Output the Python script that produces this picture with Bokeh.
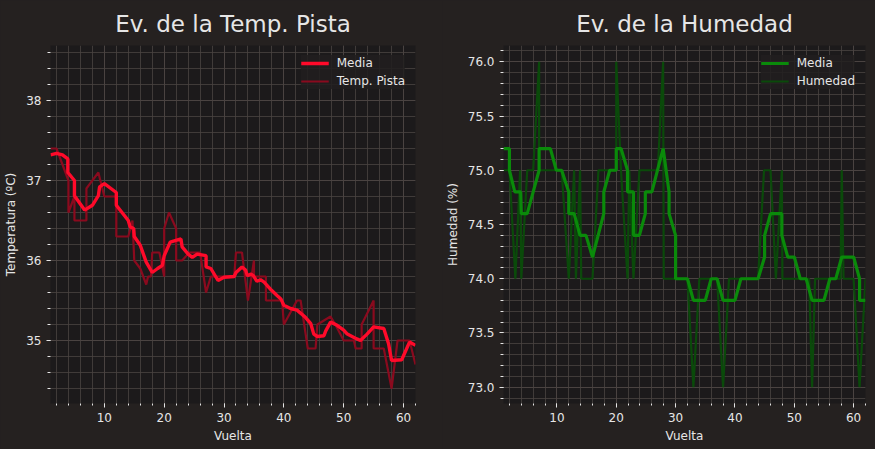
from bokeh.plotting import figure
from bokeh.layouts import row
from bokeh.models import Range1d, SingleIntervalTicker, Legend, LegendItem, NumeralTickFormatter
from bokeh.embed import file_html
from bokeh.resources import INLINE

# ---------------- data ----------------
temp_laps = [1, 2, 3, 4, 4, 5, 5, 7, 7, 9, 10, 12, 12, 14, 14.7, 15, 16, 17, 17.3, 17.8,
             18, 19.2, 20, 20, 20.8, 22, 22, 23, 24.2, 26, 27, 27.8, 28.6, 31.7, 32,
             33, 34, 35, 35, 37, 37, 39.7, 40, 42.2, 42.8, 44, 45.3, 45.6, 47.8, 48.6,
             50, 51.7, 52, 53, 53, 55, 55, 56.7, 58, 59, 61, 62]
temp_values = [37.4, 37.4, 37.2, 37.0, 36.6, 36.8, 36.5, 36.5, 36.9, 37.1, 36.8, 36.8, 36.3,
               36.3, 36.5, 36.0, 35.9, 35.7, 35.8, 35.8, 36.1, 36.1, 35.8, 36.4, 36.6, 36.4,
               36.0, 36.0, 36.1, 36.1, 35.6, 35.8, 35.8, 35.8, 36.1, 36.1, 35.5, 36.0, 35.8,
               35.8, 35.5, 35.5, 35.2, 35.5, 35.5, 34.9, 34.9, 35.2, 35.3, 35.2, 35.0, 35.0,
               34.9, 34.9, 35.2, 35.5, 34.9, 34.9, 34.4, 35.0, 35.0, 34.7]

temp_mean_laps = [1, 2, 3, 3.9, 3.9, 5, 5, 6.7, 8, 9, 9.2, 10, 12, 12, 14, 14.3, 14.9, 15, 16,
                  17, 18, 18.9, 19.7, 20, 21, 22.8, 23, 24, 24.7, 25.5, 27, 27, 27.8, 29, 30,
                  31.7, 32, 33, 33.6, 33.9, 34.5, 34.9, 35.5, 36.1, 36.7, 37.9, 38.9, 39.5,
                  40, 41.1, 42.2, 43.6, 44.5, 45, 45.6, 46.7, 47, 47.8, 48.9, 50, 50.6, 52.2,
                  52.8, 53.9, 55, 56.7, 57.5, 58, 59.7, 61, 62]
temp_mean_values = [37.32, 37.34, 37.32, 37.27, 37.1, 37.0, 36.81, 36.63, 36.69, 36.81, 36.92,
                    36.96, 36.85, 36.69, 36.5, 36.42, 36.4, 36.3, 36.19, 35.98, 35.85, 35.9,
                    35.94, 36.06, 36.23, 36.27, 36.17, 36.08, 36.04, 36.08, 36.06, 35.92, 35.9,
                    35.75, 35.79, 35.8, 35.85, 35.92, 35.88, 35.81, 35.83, 35.81, 35.74, 35.76,
                    35.73, 35.63, 35.56, 35.52, 35.44, 35.4, 35.38, 35.29, 35.21, 35.08, 35.05,
                    35.06, 35.12, 35.23, 35.19, 35.13, 35.08, 35.02, 35.0, 35.08, 35.17, 35.15,
                    34.96, 34.75, 34.76, 34.98, 34.94]

hum_laps = [1, 2, 3, 3.8, 4, 5, 6, 7, 7, 10.8, 12, 12.9, 13.2, 13.9, 14.1, 16, 17, 20, 20, 20.8,
            21.9, 22.2, 22.9, 23.9, 27, 27.9, 28, 32, 33, 34, 37, 38, 39, 43.9, 44.9, 46, 46.9,
            47.9, 48, 52.5, 53, 53.5, 57.8, 58, 58.3, 60, 61, 62]
hum_values = [75, 75, 74, 75, 74, 75, 75, 76, 75, 75, 74, 75, 74, 75, 74, 74, 75, 75, 76, 75,
              74, 75, 74, 75, 75, 76, 74, 74, 73, 74, 74, 73, 74, 74, 75, 75, 74, 75, 74, 74,
              73, 74, 74, 75, 74, 74, 73, 74]

hum_mean_laps = [1, 2, 2, 2.9, 3.9, 4, 5, 7, 7, 8.9, 9.9, 10.8, 12, 12, 12.9, 13.9, 14.9, 16,
                 17.9, 17.9, 18.9, 20, 20, 20.8, 21.9, 21.9, 22.9, 22.9, 23.9, 24.9, 24.9, 26,
                 27.9, 28.9, 28.9, 30, 30, 32, 33, 35, 36, 37, 38, 40, 41, 43.9, 45, 45, 46,
                 47.9, 47.9, 48.9, 50, 51, 52, 53, 55, 56, 57, 58, 60, 61, 61, 62]
hum_mean_values = [75.2, 75.2, 75.0, 74.8, 74.8, 74.6, 74.6, 75.0, 75.2, 75.2, 75.0, 75.0, 74.8,
                   74.6, 74.6, 74.4, 74.4, 74.2, 74.6, 74.8, 75.0, 75.0, 75.2, 75.2, 75.0, 74.8,
                   74.8, 74.4, 74.4, 74.6, 74.8, 74.8, 75.2, 74.8, 74.6, 74.4, 74.0, 74.0, 73.8,
                   73.8, 74.0, 74.0, 73.8, 73.8, 74.0, 74.0, 74.2, 74.4, 74.6, 74.6, 74.4, 74.2,
                   74.2, 74.0, 74.0, 73.8, 73.8, 74.0, 74.0, 74.2, 74.2, 74.0, 73.8, 73.8]

# ---------------- style ----------------
FIG_BG = "#252120"
PLOT_BG = "#1c1a1b"
GRID = "#4a4341"
TEXT = "#e6e6e6"
FONT = "DejaVu Sans"


def make_fig(title, ylabel, yr, ytick, width, left_border, right_border, fmt=None):
    p = figure(width=width, height=449,
               x_range=Range1d(1, 62), y_range=Range1d(*yr),
               output_backend="svg", toolbar_location=None,
               min_border_left=left_border, min_border_right=right_border,
               min_border_top=45, min_border_bottom=46,
               background_fill_color=PLOT_BG, border_fill_color=FIG_BG,
               outline_line_color=None,
               styles={"background-color": FIG_BG})
    p.title.text = title
    p.title.align = "center"
    p.title.text_font = FONT
    p.title.text_font_size = "23px"
    p.title.text_font_style = "normal"
    p.title.text_color = TEXT
    p.title.standoff = 17

    p.xaxis.ticker = SingleIntervalTicker(interval=10, num_minor_ticks=5)
    p.yaxis.ticker = SingleIntervalTicker(interval=ytick, num_minor_ticks=5)
    if fmt:
        p.yaxis.formatter = NumeralTickFormatter(format=fmt)
    p.xaxis.axis_label = "Vuelta"
    p.yaxis.axis_label = ylabel
    for ax in (p.xaxis[0], p.yaxis[0]):
        ax.axis_line_color = None
        ax.major_tick_line_color = TEXT
        ax.minor_tick_line_color = TEXT
        ax.major_tick_out = 4
        ax.major_tick_in = 0
        ax.minor_tick_out = 2
        ax.minor_tick_in = 0
        ax.major_label_text_font = FONT
        ax.major_label_text_font_size = "12px"
        ax.major_label_text_color = TEXT
        ax.axis_label_text_font = FONT
        ax.axis_label_text_font_size = "12px"
        ax.axis_label_text_font_style = "normal"
        ax.axis_label_text_color = TEXT
    p.xaxis.major_label_standoff = 5
    p.xaxis.axis_label_standoff = 4
    p.yaxis.major_label_standoff = 5
    p.yaxis.axis_label_standoff = 5
    p.yaxis.minor_tick_out = 3

    for g in (p.xgrid[0], p.ygrid[0]):
        g.grid_line_color = GRID
        g.grid_line_width = 1
        g.minor_grid_line_color = GRID
        g.minor_grid_line_alpha = 0.8
        g.minor_grid_line_width = 1
    return p


p1 = make_fig("Ev. de la Temp. Pista", "Temperatura (ºC)", (34.2125, 38.6875), 1, 442, 50, 27)
r_raw1 = p1.line(temp_laps, temp_values, line_color="#8a0a1e", line_width=2.2)
r_mean1 = p1.line(temp_mean_laps, temp_mean_values, line_color="#ff0a2a", line_width=3.4)

p2 = make_fig("Ev. de la Humedad", "Humedad (%)", (72.85, 76.15), 0.5, 433, 58, 10, fmt="0.0")
r_raw2 = p2.line(hum_laps, hum_values, line_color="#0a4a0a", line_width=2.2)
r_mean2 = p2.line(hum_mean_laps, hum_mean_values, line_color="#0a8a0a", line_width=3.2)

for p, items in ((p1, [("Media", r_mean1), ("Temp. Pista", r_raw1)]),
                 (p2, [("Media", r_mean2), ("Humedad", r_raw2)])):
    leg = Legend(items=[LegendItem(label=l, renderers=[r]) for l, r in items],
                 location="top_right")
    leg.background_fill_color = "#211e1e"
    leg.background_fill_alpha = 0.85
    leg.border_line_color = None
    leg.label_text_color = TEXT
    leg.label_text_font = FONT
    leg.label_text_font_size = "12px"
    leg.glyph_width = 28
    leg.glyph_height = 16
    leg.label_height = 16
    leg.spacing = 2
    leg.padding = 5
    leg.margin = 10
    leg.label_standoff = 8
    p.add_layout(leg)

layout = row(p1, p2, styles={"background-color": FIG_BG})
html = file_html(layout, INLINE)
html = html.replace("<body>", '<body style="margin:0;padding:0;overflow:hidden;background-color:%s;">' % FIG_BG, 1)
open("out.html", "w").write(html)
